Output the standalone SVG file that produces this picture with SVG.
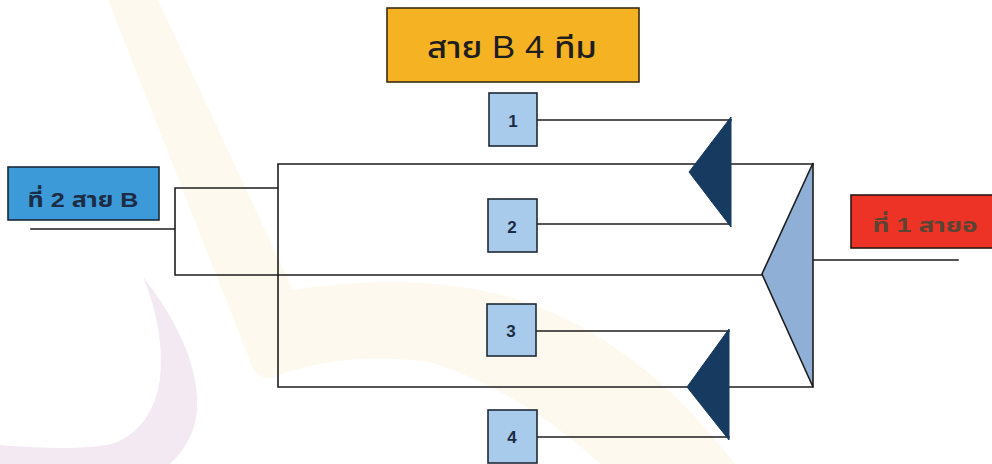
<svg xmlns="http://www.w3.org/2000/svg" width="992" height="464" viewBox="0 0 992 464">
<style>
.ln{stroke:#1e1e1e;stroke-width:1.6;fill:none;stroke-linecap:square}
.sq{fill:#a8cbec;stroke:#1f2a36;stroke-width:1.6}
.num{font-family:"Liberation Sans","Noto Sans",sans-serif;font-weight:bold;font-size:17px;fill:#1c2c44;text-anchor:middle}
.dk{fill:#163a60;stroke:#163a60;stroke-width:1}
.th{font-family:"Liberation Sans","Noto Sans","Noto Sans Thai",sans-serif;text-anchor:middle}
</style>
<rect width="992" height="464" fill="#ffffff"/>
<g id="watermark">
<path d="M108,0 L158,0 L293,290 Q420,270 520,300 Q640,340 735,464 L600,464 Q520,390 430,362 Q340,350 272,378 Q258,380 252,366 Z" fill="#fdf9ee"/>
<path d="M143,277 Q200,350 197,410 Q195,440 170,464 L0,464 L0,445 Q80,452 115,443 Q152,428 160,380 Q165,330 143,277 Z" fill="#f2e9f3"/>
</g>
<g id="connectors">
<path class="ln" d="M31,229 H175 M175,188 V275 M175,188 H278 M175,275 H762 M278,164 V387 M278,164 H813 M278,387 H813"/>
<path class="ln" d="M537,120 H731 M537,224 H730 M536,331 H729 M537,437 H729 M813,260 H958"/>
</g>
<g id="merge-main">
<polygon points="813,163 813,387 762,274" fill="#8fafd6" stroke="#1e1e1e" stroke-width="1.6"/>
</g>
<g id="merge-top">
<polygon class="dk" points="731,117 731,227 689,172"/>
</g>
<g id="merge-bottom">
<polygon class="dk" points="729,329 729,440 687,387"/>
</g>
<g id="title">
<rect x="387" y="8" width="252" height="74" fill="#f5b324" stroke="#3a2c12" stroke-width="1.6"/>
<text class="th" x="512" y="58" font-size="31" font-weight="500" fill="#1e1e1e" textLength="170" lengthAdjust="spacingAndGlyphs">สาย B 4 ทีม</text>
</g>
<g id="second-b">
<rect x="8" y="167" width="151" height="53" fill="#3c9ad8" stroke="#1a2838" stroke-width="1.6"/>
<text class="th" x="83" y="207" font-size="21" font-weight="bold" fill="#1c2c44" textLength="111" lengthAdjust="spacingAndGlyphs">ที่ 2 สาย B</text>
</g>
<g id="first">
<rect x="851" y="195" width="145" height="53" fill="#ec3326" stroke="#2a1a14" stroke-width="1.6"/>
<text class="th" x="925" y="232" font-size="20" font-weight="bold" fill="#5a4434" textLength="105" lengthAdjust="spacingAndGlyphs">ที่ 1 สายอ</text>
</g>
<g id="team1"><rect class="sq" x="489" y="93" width="48" height="53"/><text class="num" x="513" y="127">1</text></g>
<g id="team2"><rect class="sq" x="488" y="199" width="49" height="53"/><text class="num" x="512" y="233">2</text></g>
<g id="team3"><rect class="sq" x="487" y="304" width="49" height="52"/><text class="num" x="511" y="337">3</text></g>
<g id="team4"><rect class="sq" x="488" y="410" width="49" height="53"/><text class="num" x="512" y="443">4</text></g>
</svg>
